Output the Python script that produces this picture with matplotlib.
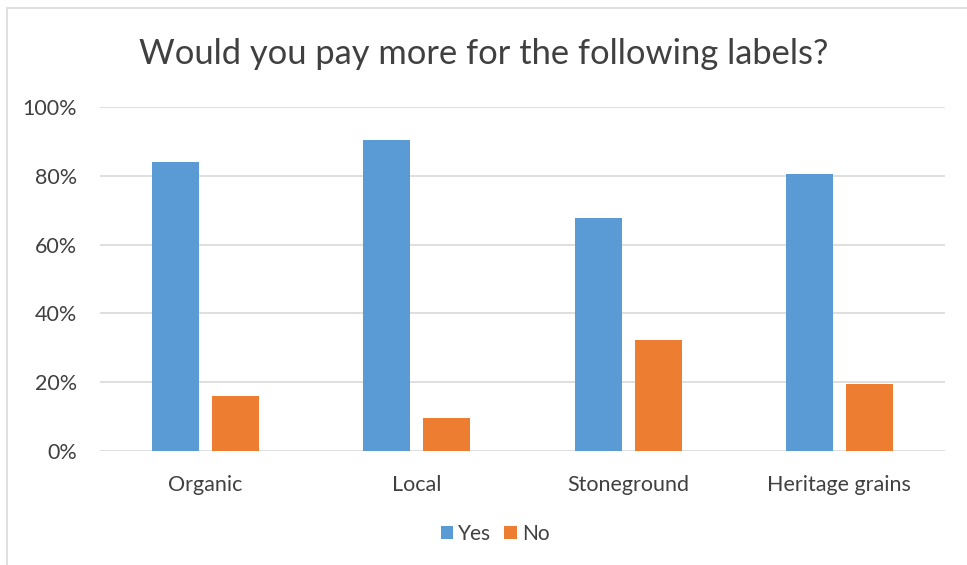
import matplotlib
matplotlib.use("Agg")
import matplotlib.pyplot as plt
import numpy as np
from matplotlib.patches import Rectangle
from matplotlib.ticker import FuncFormatter

categories = ["Organic", "Local", "Stoneground", "Heritage grains"]
yes_vals = [83.9, 90.3, 67.6, 80.6]
no_vals = [16.1, 9.7, 32.4, 19.4]
yticks = [0, 20, 40, 60, 80, 100]

plt.rcParams['font.family'] = ['Lato', 'DejaVu Sans']
txt = '#404040'

fig = plt.figure(figsize=(9.67, 5.65), dpi=100)
ax = fig.add_axes([100/967, 1-451/565, 845/967, 344/565])

x = np.arange(len(categories))
w = 0.223
off = 0.142
ax.bar(x - off, yes_vals, w, color='#5B9BD5', label='Yes', zorder=3)
ax.bar(x + off, no_vals, w, color='#ED7D31', label='No', zorder=3)

ax.set_xlim(-0.5, len(categories) - 0.5)
ax.set_ylim(0, 100)
ax.set_yticks(yticks)
ax.yaxis.set_major_formatter(FuncFormatter(lambda v, p: f"{int(v)}%"))
ax.set_xticks(x)
ax.set_xticklabels(categories)
ax.tick_params(axis='both', length=0, labelsize=15.5, colors=txt)
ax.tick_params(axis='y', pad=16.5)
ax.tick_params(axis='x', pad=17)
ax.grid(axis='y', color='#D9D9D9', linewidth=1.2, zorder=0)
for s in ax.spines.values():
    s.set_visible(False)

fig.text(0.5, 1-54/565, "Would you pay more for the following labels?", ha='center', va='center',
         fontsize=24.8, color=txt)

leg = fig.legend(loc='center', bbox_to_anchor=(495/967, 1-534/565), ncol=2, frameon=False,
                 fontsize=15, handlelength=0.6, handleheight=0.6, handletextpad=0.25,
                 columnspacing=0.6, borderpad=0, borderaxespad=0)
for t in leg.get_texts():
    t.set_color(txt)

fig.patches.append(Rectangle((7/967, -0.1), 1.2, 1 - 8/565 + 0.1, transform=fig.transFigure,
                             fill=False, edgecolor='#D9D9D9', linewidth=1.2))

fig.savefig("out.png", dpi=100)
